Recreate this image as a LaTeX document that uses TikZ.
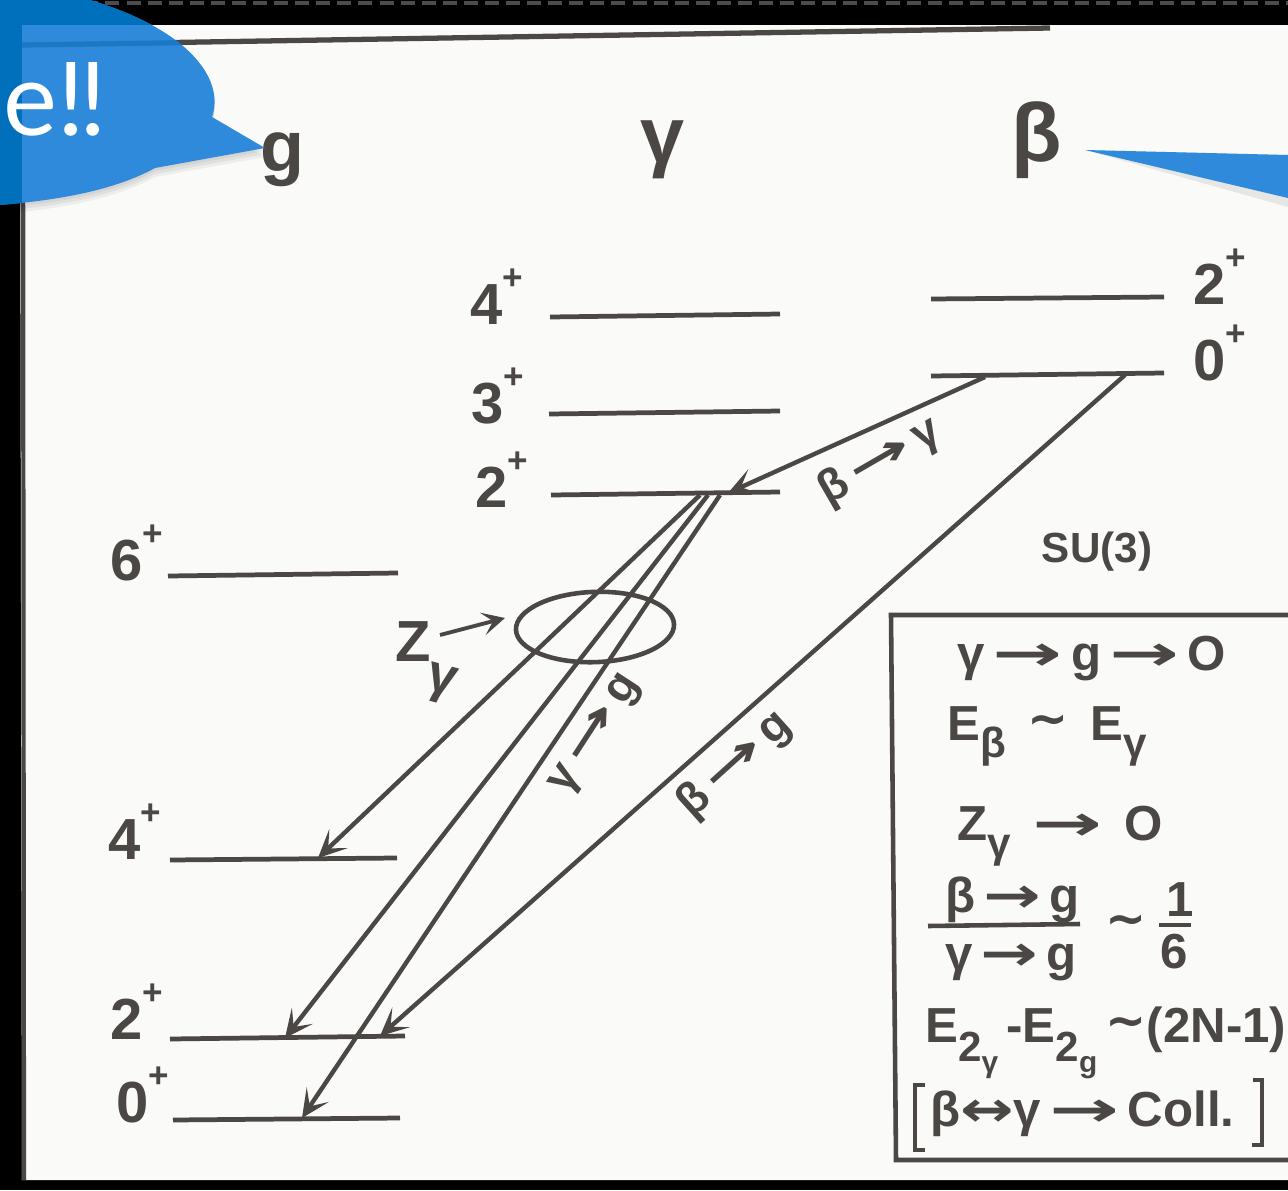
\documentclass[tikz,border=0pt]{standalone}
\usepackage{fontspec}
\usepackage{graphicx}
\setmainfont{Liberation Sans}
\newfontfamily\symfont{DejaVu Sans}
\newfontfamily\bubblefont{Lato}
\usetikzlibrary{positioning,arrows.meta,calc,shapes.geometric}
\definecolor{ink}{HTML}{4A4744}
\definecolor{paper}{HTML}{FAFAF8}
\definecolor{bubble}{HTML}{2F8ADB}
\definecolor{bubbleD}{HTML}{0070BD}
\definecolor{bubbleL}{HTML}{1C78C4}
\newcommand{\hrarr}{\,{\symfont\scalebox{1.7}[1]{→}}\,}
\newcommand{\hrarrs}{{\symfont\scalebox{1.4}[1]{→}}\,}
\newcommand{\hbarr}{{\symfont\scalebox{1.3}[1]{↔}}}
\newcommand{\lowsub}[1]{\raisebox{-.35em}{\fontsize{24}{24}\selectfont #1}}
\newcommand{\lowsubsub}[2]{\raisebox{-.4em}{\fontsize{24}{24}\selectfont #1\raisebox{-.25em}{\fontsize{17}{17}\selectfont #2}}}
\newcommand{\lvlname}[2]{#1\raisebox{.6em}{\fontsize{20}{20}\selectfont #2}}
\tikzset{
  x=0.02cm, y=-0.02cm,
  arr/.style={-{Stealth[length=16pt,width=15pt,inset=8pt]}, line width=2.5pt, color=ink},
  lvl/.style={line width=2.7pt, color=ink},
  lab/.style={text=ink, font=\fontsize{33}{33}\selectfont\bfseries, inner sep=0pt},
  txt/.style={text=ink, font=\fontsize{28}{28}\selectfont\bfseries, inner sep=0pt, anchor=base west},
  shortarr/.style={text=ink, font=\fontsize{26}{26}\selectfont\bfseries, inner sep=0pt},
}
\begin{document}
\begin{tikzpicture}
  \useasboundingbox (0,0) rectangle (1288,1190);
  \fill[black] (0,0) rectangle (1288,1190);
  \draw[gray!60!black, line width=2pt, dash pattern=on 8pt off 4pt] (0,3) -- (1288,3);
  \fill[paper] (20,25) -- (1288,25) -- (1288,1180) -- (22,1180) -- cycle;
  % page frame
  \draw[ink, line width=3pt] (22,45) -- (1050,28);
  \draw[ink, line width=2.4pt] (23,45) -- (24,1180);

  % level columns
  \foreach \xa/\ya/\xb/\yb in {168/576/398/573, 170/860/397/858, 170/1039/405/1036, 173/1120/400/1118,
                               550/317/780/314, 549/414/780/411, 551/495/780/492,
                               931/299/1164/297, 931/376/1164/373}
    \draw[lvl] (\xa,\ya) -- (\xb,\yb);

  \node[lab, font=\fontsize{41}{41}\selectfont\bfseries] (hg) at (282,160) {g};
  \node[lab, font=\fontsize{45}{45}\selectfont\bfseries] (hga) at (662,150) {γ};
  \node[lab, font=\fontsize{47}{47}\selectfont\bfseries] (hbe) at (1037,140) {β};

  \node[lab] (gsix)  at (137,553)  {\lvlname{6}{+}};
  \node[lab] (gfour) at (135,832)  {\lvlname{4}{+}};
  \node[lab] (gtwo)  at (137,1012) {\lvlname{2}{+}};
  \node[lab] (gzero) at (143,1095) {\lvlname{0}{+}};
  \node[lab] (cfour) at (497,297)  {\lvlname{4}{+}};
  \node[lab] (cthr)  at (498,396)  {\lvlname{3}{+}};
  \node[lab] (ctwo)  at (502,480)  {\lvlname{2}{+}};
  \node[lab] (btwo)  at (1220,277) {\lvlname{2}{+}};
  \node[lab] (bzero) at (1220,353) {\lvlname{0}{+}};

  % transitions
  \coordinate (bga) at (985,377);    \coordinate (gab) at (728,493);
  \coordinate (bgg) at (1125,375);   \coordinate (gb)  at (380,1036);
  \coordinate (ca)  at (700,495);    \coordinate (gfa) at (318,858);
  \coordinate (cb)  at (708,495);    \coordinate (gta) at (285,1038);
  \coordinate (cc)  at (720,495);    \coordinate (gza) at (302,1118);
  \foreach \a/\b in {bga/gab, bgg/gb, ca/gfa, cb/gta, cc/gza} \draw[arr] (\a) -- (\b);

  \node[draw=ink, line width=2.6pt, ellipse, minimum width=90pt, minimum height=40pt, inner sep=0pt,
        rotate=2] (ztrans) at (595,627) {};
  \node[lab, font=\fontsize{33}{33}\selectfont\bfseries] (zlab) at (413,642) {Z};
  \node[lab, rotate=-15, font=\fontsize{30}{30}\selectfont\bfseries] (zsub) at (441,684) {γ};
  \coordinate (zfrom) at (440,635);  \coordinate (zto) at (505,618);
  \draw[arr, line width=2.2pt, -{Stealth[length=13pt,width=13pt,inset=6pt]}] (zfrom) -- (zto);

  \node[shortarr, rotate=30] (lbg) at (880,462) {β\hrarr γ};
  \node[shortarr, rotate=42] (lbb) at (735,765) {β\hrarr g};
  \node[shortarr, rotate=57] (lcg) at (597,735) {γ\hrarr g};

  \node[lab, font=\fontsize{24}{24}\selectfont\bfseries] (su) at (1097,552) {SU(3)};

  % summary box
  \draw[ink, line width=2.6pt] (1288,615) -- (891,615) -- (896,1160) -- (1288,1160);
  \node[txt] (rone)  at (957,670)  {γ\hrarr g\hrarr O};
  \node[txt] (rtwo)  at (947,740)  {E\lowsub{β} \,\raisebox{.1em}{\symfont ∼}\, E\lowsub{γ}};
  \node[txt] (rthr)  at (957,840)  {Z\lowsub{γ}\;\hrarr\;O};
  \node[txt] (rfou)  at (945,912)  {β\,\hrarrs g};
  \node[txt] (rfiv)  at (945,970)  {γ\,\hrarrs g};
  \draw[ink, line width=2.6pt] (928,926) -- (1080,924);
  \node[txt] (rsim)  at (1105,935) {\symfont ∼};
  \node[txt] (rnum)  at (1166,916) {1};
  \node[txt] (rden)  at (1160,968) {6};
  \draw[ink, line width=2.6pt] (1159,925) -- (1191,925);
  \node[txt] (rsix)  at (925,1042) {E\lowsubsub{2}{γ}\,-E\lowsubsub{2}{g}\,\raisebox{.1em}{\symfont ∼}(2N-1)};
  \node[txt] (rsev)  at (930,1126) {β\hbarr γ\hrarr Coll.};
  \draw[ink, line width=2.6pt] (925,1085) -- (915,1085) -- (915,1150) -- (925,1150);
  \draw[ink, line width=2.6pt] (1253,1080) -- (1262,1080) -- (1262,1145) -- (1252,1145);

  % callouts
  \foreach \o in {3,6,9}
    \fill[black, opacity=.05, yshift=-\o*0.02cm]
      (0,205) .. controls (60,200) and (115,190) .. (155,168) -- (265,148) -- (212,117)
      .. controls (225,80) and (190,30) .. (90,0) -- (0,0) -- cycle;
  \fill[bubble] (0,205) .. controls (60,200) and (115,190) .. (155,168) -- (265,148) -- (212,117)
      .. controls (225,80) and (190,30) .. (90,0) -- (0,0) -- cycle;
  \begin{scope}
    \clip (0,205) .. controls (60,200) and (115,190) .. (155,168) -- (265,148) -- (212,117)
      .. controls (225,80) and (190,30) .. (90,0) -- (0,0) -- cycle;
    \fill[bubbleD] (0,0) rectangle (300,25);
    \fill[bubbleD] (0,0) rectangle (22,205);
    \draw[bubbleL, line width=3pt] (22,45) -- (300,41);
  \end{scope}
  \fill[black, opacity=.08] (1085,150) -- (1288,155) -- (1288,207) -- cycle;
  \fill[bubble] (1085,150) -- (1288,155) -- (1288,198) -- cycle;
  \node[text=white, font=\bubblefont\fontsize{58}{58}\selectfont, inner sep=0pt, anchor=base west] (etxt) at (3,135) {e!\kern-.05em!};
\end{tikzpicture}
\end{document}
